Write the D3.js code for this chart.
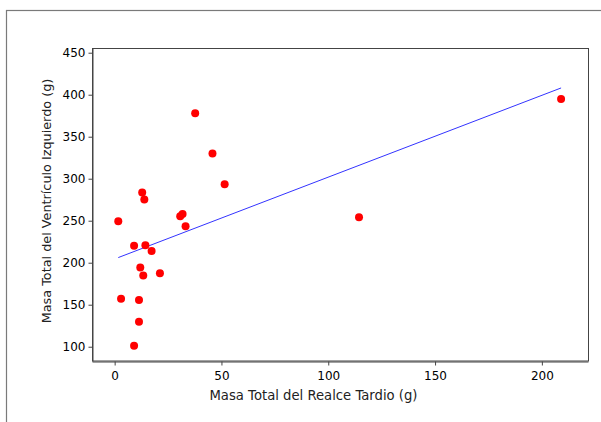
<!DOCTYPE html>
<html>
<head>
<meta charset="utf-8">
<script src="https://cdn.jsdelivr.net/npm/d3@7"></script>
<style>
  body { margin: 0; background: #fff; }
  svg { display: block; font-family: "DejaVu Sans", sans-serif; }
</style>
</head>
<body>
<div id="chart"></div>
<script>
'use strict';

// realce tardio (g) vs masa del ventriculo izquierdo (g)
var realceTardio = [12.9, 13.9, 1.7, 30.7, 31.8, 33.2, 51.5, 9.1, 14.4, 17.3, 12.0,
                    13.4, 21.2, 3.0, 11.4, 11.4, 9.1, 37.7, 45.8, 114.4, 209.0];
var masaVI = [283.6, 275.2, 249.4, 255.4, 258.1, 243.5, 293.4, 220.1, 220.9, 213.8, 194.2,
              184.9, 187.6, 157.1, 155.5, 129.7, 101.2, 377.8, 329.9, 254.2, 394.9];
var xTicks = [0, 50, 100, 150, 200];
var yTicks = [100, 150, 200, 250, 300, 350, 400, 450];
var xTitle = 'Masa Total del Realce Tardio (g)';
var yTitle = 'Masa Total del Ventrículo Izquierdo (g)';

var width = 601, height = 422;
var margin = {top: 48, right: 13, bottom: 61, left: 92};

function scatter() {
    function display(selection) {
        selection.each(function(data) {
            var svg = d3.select(this);
            var w = width - margin.left - margin.right,
                h = height - margin.top - margin.bottom;

            var x = d3.scaleLinear().domain([-10.6, 221.6]).range([0, w]);
            var y = d3.scaleLinear().domain([83, 455.6]).range([h, 0]);

            // outer frame
            svg.append('rect')
                .attr('x', 6.5).attr('y', 10.5)
                .attr('width', 700).attr('height', 500)
                .attr('fill', 'none')
                .attr('stroke', '#7a7a7a')
                .attr('stroke-width', 1.2);

            var g = svg.append('g')
                .attr('transform', 'translate(' + margin.left + ',' + margin.top + ')');

            g.append('rect')
                .attr('x', 0.5).attr('y', 0.5)
                .attr('width', w).attr('height', h - 0.5)
                .attr('fill', 'none')
                .attr('stroke', '#444');

            var xAxis = g.append('g')
                .attr('transform', 'translate(0,' + (h + 0.5) + ')')
                .call(d3.axisBottom(x).tickValues(xTicks).tickSize(4).tickSizeOuter(0).tickPadding(6));
            var yAxis = g.append('g')
                .attr('transform', 'translate(0.5,0)')
                .call(d3.axisLeft(y).tickValues(yTicks).tickSize(4).tickSizeOuter(0).tickPadding(3));

            [xAxis, yAxis].forEach(function(a) {
                a.select('.domain').attr('stroke', '#444');
                a.selectAll('.tick line').attr('stroke', '#444');
                a.selectAll('.tick text')
                    .attr('fill', '#000')
                    .style('font-size', '12px')
                    .style('font-family', '"DejaVu Sans", sans-serif');
            });

            // least squares fit
            var mx = d3.mean(data.x), my = d3.mean(data.y);
            var sxy = d3.sum(data.x, function(v, i) { return (v - mx) * (data.y[i] - my); });
            var sxx = d3.sum(data.x, function(v) { return (v - mx) * (v - mx); });
            var b = sxy / sxx, a0 = my - b * mx;
            var ext = d3.extent(data.x);

            g.append('line')
                .attr('x1', x(ext[0])).attr('y1', y(a0 + b * ext[0]))
                .attr('x2', x(ext[1])).attr('y2', y(a0 + b * ext[1]))
                .attr('stroke', '#3333ff')
                .attr('stroke-width', 1);

            g.append('g')
                .selectAll('circle')
                .data(data.x)
                .enter().append('circle')
                .attr('cx', function(d) { return x(d); })
                .attr('cy', function(d, i) { return y(data.y[i]); })
                .attr('r', 4)
                .attr('fill', '#ff0000');

            svg.append('text')
                .attr('x', 313.5).attr('y', 400)
                .attr('text-anchor', 'middle')
                .attr('fill', '#222')
                .style('font-size', '13.2px')
                .text(xTitle);

            svg.append('text')
                .attr('transform', 'translate(50.5,201) rotate(-90)')
                .attr('text-anchor', 'middle')
                .attr('fill', '#222')
                .style('font-size', '12.8px')
                .text(yTitle);
        });
    }
    return display;
}

d3.select('#chart')
    .append('svg')
    .attr('width', width)
    .attr('height', height)
    .datum({x: realceTardio, y: masaVI})
    .call(scatter());
</script>
</body>
</html>
